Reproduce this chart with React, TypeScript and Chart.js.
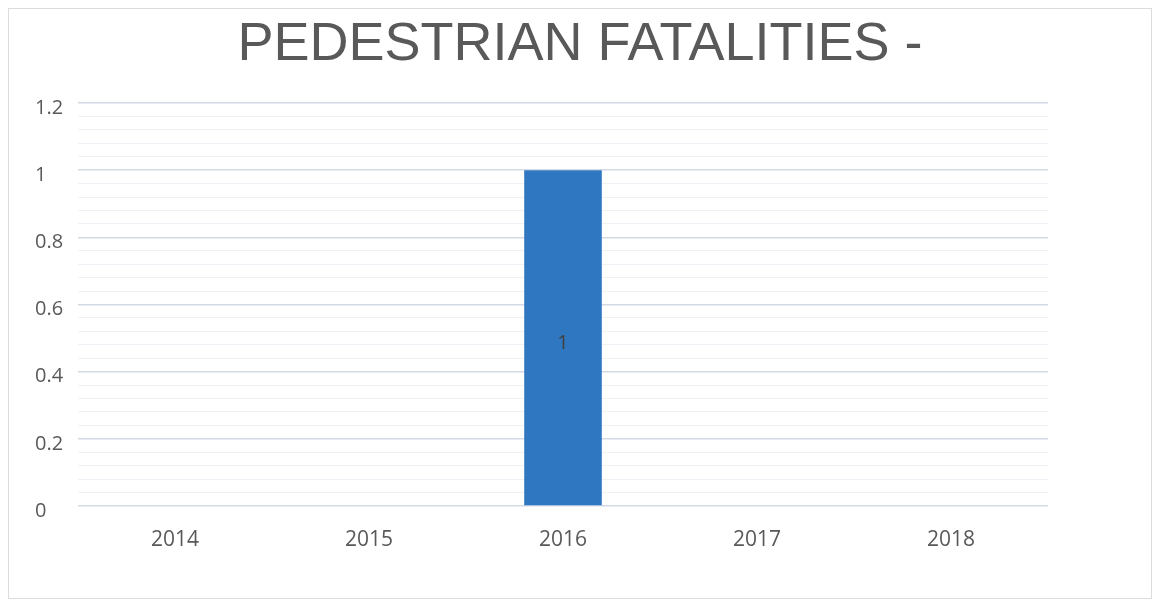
import React, { useEffect, useRef } from "react";
import { Chart, registerables } from "chart.js";

Chart.register(...registerables);

const TITLE = "PEDESTRIAN FATALITIES -";
const CATEGORIES = ["2014", "2015", "2016", "2017", "2018"];
const VALUES = [0, 0, 1, 0, 0];
const DATA_LABELS = ["", "", "1", "", ""];
const Y_TICK_LABELS = ["0", "0.2", "0.4", "0.6", "0.8", "1", "1.2"];

const titlePlugin = {
  id: "centerTitle",
  afterDraw(chart: any) {
    const ctx = chart.ctx;
    ctx.save();
    ctx.font = "54px 'Liberation Sans', Arial";
    ctx.fillStyle = "#595959";
    ctx.textAlign = "center";
    ctx.textBaseline = "alphabetic";
    ctx.fillText(TITLE, chart.width / 2, 51);
    ctx.restore();
  },
};

const barLabelPlugin = {
  id: "barLabel",
  afterDatasetsDraw(chart: any) {
    const meta = chart.getDatasetMeta(0);
    const ctx = chart.ctx;
    ctx.save();
    ctx.font = "20px 'Open Sans'";
    ctx.fillStyle = "#404040";
    ctx.textAlign = "center";
    ctx.textBaseline = "middle";
    meta.data.forEach((el: any, i: number) => {
      const label = DATA_LABELS[i];
      if (!label) return;
      ctx.fillText(label, el.x, (el.y + el.base) / 2 + 6);
    });
    ctx.restore();
  },
};

export default function App() {
  const ref = useRef<HTMLCanvasElement | null>(null);
  useEffect(() => {
    if (!ref.current) return;
    const chart = new Chart(ref.current, {
      type: "bar",
      data: {
        labels: CATEGORIES,
        datasets: [
          {
            data: VALUES,
            backgroundColor: "#2f78c1",
            barPercentage: 0.4,
            categoryPercentage: 1,
          },
        ],
      },
      options: {
        animation: false,
        responsive: false,
        maintainAspectRatio: false,
        layout: { padding: { left: 26, right: 103, top: 94, bottom: 0 } },
        plugins: {
          legend: { display: false },
          tooltip: { enabled: false },
          title: { display: false },
        },
        scales: {
          x: {
            grid: { display: false, drawTicks: false },
            border: { display: false },
            ticks: {
              color: "#595959",
              font: { family: "'Open Sans'", size: 21 },
              padding: 21,
            },
            afterFit: (scale: any) => {
              scale.height = 92;
            },
          },
          y: {
            min: 0,
            max: 1.2,
            border: { display: false },
            grid: {
              drawTicks: false,
              color: (c: any) => (c.index % 5 === 0 ? "#d3dae6" : "#eef1f6"),
              lineWidth: (c: any) => (c.index % 5 === 0 ? 1.5 : 1),
            },
            ticks: {
              stepSize: 0.04,
              autoSkip: false,
              crossAlign: "far",
              labelOffset: 5,
              color: "#595959",
              font: { family: "'Open Sans'", size: 20 },
              callback: (_v: any, i: number) => (i % 5 === 0 ? Y_TICK_LABELS[i / 5] : ""),
            },
            afterFit: (scale: any) => {
              scale.width = 43;
            },
          },
        },
      },
      plugins: [barLabelPlugin, titlePlugin],
    } as any);
    return () => chart.destroy();
  }, []);
  return (
    <div style={{ border: "1px solid #dcdcdc", width: 1142, height: 589 }}>
      <canvas ref={ref} width={1142} height={589} style={{ display: "block" }} />
    </div>
  );
}
